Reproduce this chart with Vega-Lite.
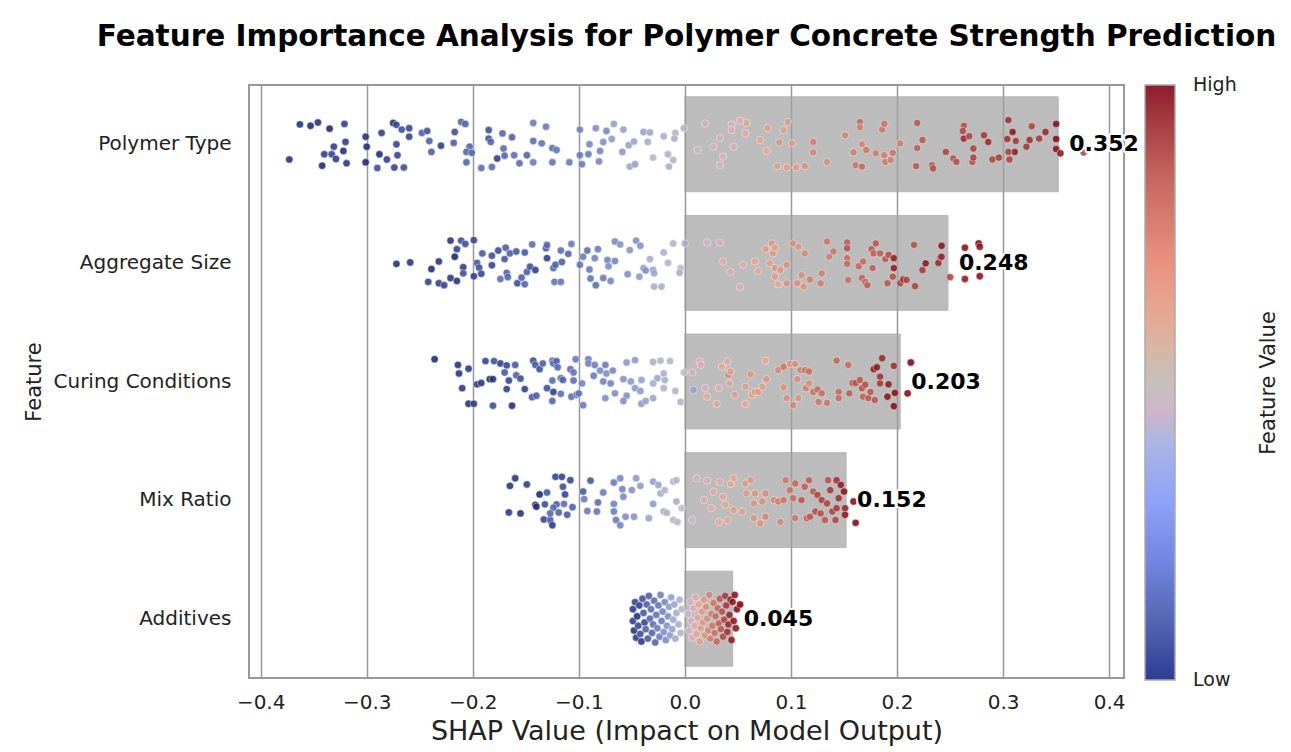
{
"$schema": "https://vega.github.io/schema/vega-lite/v6.json",
"autosize": {"type": "none"},
"padding": {"left": 249, "top": 85, "right": 167, "bottom": 74},
"width": 875,
"height": 593,
"title": {"text": "Feature Importance Analysis for Polymer Concrete Strength Prediction", "fontSize": 29.5, "fontWeight": "bold", "anchor": "middle", "offset": 33, "color": "#000", "font": "DejaVu Sans"},
"config": {
  "font": "DejaVu Sans",
  "view": {"stroke": "#999", "strokeWidth": 2},
  "legend": {"labelFont": "DejaVu Sans", "titleFont": "DejaVu Sans"}
},
"datasets": {
"bars": [
{"f":"Polymer Type","imp":0.352},
{"f":"Aggregate Size","imp":0.248},
{"f":"Curing Conditions","imp":0.203},
{"f":"Mix Ratio","imp":0.152},
{"f":"Additives","imp":0.045}
],
"pts": [
{"f":"Polymer Type","s":-0.363,"v":0.05,"j":-0.42},
{"f":"Polymer Type","s":-0.353,"v":0.03,"j":-0.39},
{"f":"Polymer Type","s":-0.346,"v":0.06,"j":-0.46},
{"f":"Polymer Type","s":-0.335,"v":0.02,"j":-0.33},
{"f":"Polymer Type","s":-0.321,"v":0.1,"j":-0.43},
{"f":"Polymer Type","s":-0.373,"v":0.05,"j":0.32},
{"f":"Polymer Type","s":-0.342,"v":0.03,"j":0.45},
{"f":"Polymer Type","s":-0.34,"v":0.1,"j":0.21},
{"f":"Polymer Type","s":-0.333,"v":0.12,"j":0.21},
{"f":"Polymer Type","s":-0.331,"v":0.1,"j":0.05},
{"f":"Polymer Type","s":-0.329,"v":0.08,"j":0.31},
{"f":"Polymer Type","s":-0.322,"v":0.04,"j":0.14},
{"f":"Polymer Type","s":-0.32,"v":0.1,"j":-0.05},
{"f":"Polymer Type","s":-0.319,"v":0.08,"j":0.4},
{"f":"Polymer Type","s":-0.301,"v":0.05,"j":-0.16},
{"f":"Polymer Type","s":-0.3,"v":0.04,"j":0.05},
{"f":"Polymer Type","s":-0.301,"v":0.02,"j":0.38},
{"f":"Polymer Type","s":-0.29,"v":0.15,"j":0.5},
{"f":"Polymer Type","s":-0.288,"v":0.03,"j":0.21},
{"f":"Polymer Type","s":-0.286,"v":0.1,"j":-0.24},
{"f":"Polymer Type","s":-0.281,"v":0.1,"j":0.32},
{"f":"Polymer Type","s":-0.275,"v":0.03,"j":-0.45},
{"f":"Polymer Type","s":-0.272,"v":0.12,"j":-0.41},
{"f":"Polymer Type","s":-0.272,"v":0.12,"j":0.0},
{"f":"Polymer Type","s":-0.271,"v":0.12,"j":0.23},
{"f":"Polymer Type","s":-0.274,"v":0.12,"j":0.49},
{"f":"Polymer Type","s":-0.267,"v":0.15,"j":-0.31},
{"f":"Polymer Type","s":-0.265,"v":0.15,"j":0.49},
{"f":"Polymer Type","s":-0.26,"v":0.12,"j":-0.34},
{"f":"Polymer Type","s":-0.26,"v":0.12,"j":-0.16},
{"f":"Polymer Type","s":-0.248,"v":0.2,"j":-0.24},
{"f":"Polymer Type","s":-0.243,"v":0.15,"j":-0.28},
{"f":"Polymer Type","s":-0.241,"v":0.2,"j":-0.07},
{"f":"Polymer Type","s":-0.239,"v":0.2,"j":0.16},
{"f":"Polymer Type","s":-0.23,"v":0.1,"j":0.03},
{"f":"Polymer Type","s":-0.218,"v":0.2,"j":-0.03},
{"f":"Polymer Type","s":-0.217,"v":0.15,"j":-0.26},
{"f":"Polymer Type","s":-0.211,"v":0.22,"j":-0.47},
{"f":"Polymer Type","s":-0.207,"v":0.2,"j":-0.43},
{"f":"Polymer Type","s":-0.203,"v":0.22,"j":0.05},
{"f":"Polymer Type","s":-0.206,"v":0.22,"j":0.16},
{"f":"Polymer Type","s":-0.201,"v":0.22,"j":0.18},
{"f":"Polymer Type","s":-0.206,"v":0.22,"j":0.38},
{"f":"Polymer Type","s":-0.192,"v":0.25,"j":0.5},
{"f":"Polymer Type","s":-0.185,"v":0.15,"j":-0.3},
{"f":"Polymer Type","s":-0.185,"v":0.15,"j":-0.12},
{"f":"Polymer Type","s":-0.183,"v":0.22,"j":-0.05},
{"f":"Polymer Type","s":-0.182,"v":0.25,"j":0.48},
{"f":"Polymer Type","s":-0.177,"v":0.1,"j":0.3},
{"f":"Polymer Type","s":-0.172,"v":0.22,"j":-0.23},
{"f":"Polymer Type","s":-0.171,"v":0.25,"j":0.09},
{"f":"Polymer Type","s":-0.17,"v":0.22,"j":0.24},
{"f":"Polymer Type","s":-0.163,"v":0.2,"j":-0.15},
{"f":"Polymer Type","s":-0.161,"v":0.25,"j":0.23},
{"f":"Polymer Type","s":-0.156,"v":0.25,"j":0.4},
{"f":"Polymer Type","s":-0.149,"v":0.22,"j":0.23},
{"f":"Polymer Type","s":-0.143,"v":0.3,"j":-0.45},
{"f":"Polymer Type","s":-0.143,"v":0.25,"j":-0.07},
{"f":"Polymer Type","s":-0.143,"v":0.3,"j":0.38},
{"f":"Polymer Type","s":-0.135,"v":0.27,"j":-0.02},
{"f":"Polymer Type","s":-0.131,"v":0.3,"j":-0.37},
{"f":"Polymer Type","s":-0.125,"v":0.25,"j":0.08},
{"f":"Polymer Type","s":-0.121,"v":0.28,"j":0.12},
{"f":"Polymer Type","s":-0.125,"v":0.28,"j":0.38},
{"f":"Polymer Type","s":-0.109,"v":0.3,"j":0.38},
{"f":"Polymer Type","s":-0.099,"v":0.32,"j":-0.31},
{"f":"Polymer Type","s":-0.099,"v":0.3,"j":0.23},
{"f":"Polymer Type","s":-0.097,"v":0.3,"j":0.42},
{"f":"Polymer Type","s":-0.091,"v":0.3,"j":0.21},
{"f":"Polymer Type","s":-0.09,"v":0.33,"j":0.0},
{"f":"Polymer Type","s":-0.084,"v":0.35,"j":-0.34},
{"f":"Polymer Type","s":-0.081,"v":0.33,"j":0.36},
{"f":"Polymer Type","s":-0.08,"v":0.33,"j":0.14},
{"f":"Polymer Type","s":-0.077,"v":0.35,"j":-0.05},
{"f":"Polymer Type","s":-0.074,"v":0.33,"j":-0.28},
{"f":"Polymer Type","s":-0.069,"v":0.38,"j":-0.11},
{"f":"Polymer Type","s":-0.067,"v":0.4,"j":-0.43},
{"f":"Polymer Type","s":-0.059,"v":0.38,"j":0.16},
{"f":"Polymer Type","s":-0.058,"v":0.4,"j":-0.31},
{"f":"Polymer Type","s":-0.053,"v":0.4,"j":0.02},
{"f":"Polymer Type","s":-0.048,"v":0.42,"j":-0.06},
{"f":"Polymer Type","s":-0.052,"v":0.42,"j":0.47},
{"f":"Polymer Type","s":-0.047,"v":0.4,"j":0.42},
{"f":"Polymer Type","s":-0.039,"v":0.4,"j":-0.26},
{"f":"Polymer Type","s":-0.033,"v":0.42,"j":-0.25},
{"f":"Polymer Type","s":-0.035,"v":0.44,"j":-0.05},
{"f":"Polymer Type","s":-0.03,"v":0.48,"j":0.28},
{"f":"Polymer Type","s":-0.02,"v":0.45,"j":-0.17},
{"f":"Polymer Type","s":-0.016,"v":0.46,"j":0.21},
{"f":"Polymer Type","s":-0.015,"v":0.45,"j":0.47},
{"f":"Polymer Type","s":-0.011,"v":0.47,"j":0.33},
{"f":"Polymer Type","s":-0.009,"v":0.47,"j":-0.24},
{"f":"Polymer Type","s":-0.01,"v":0.46,"j":-0.12},
{"f":"Polymer Type","s":-0.001,"v":0.48,"j":-0.34},
{"f":"Polymer Type","s":0.019,"v":0.55,"j":-0.44},
{"f":"Polymer Type","s":0.033,"v":0.55,"j":0.44},
{"f":"Polymer Type","s":0.044,"v":0.57,"j":-0.41},
{"f":"Polymer Type","s":0.044,"v":0.56,"j":-0.3},
{"f":"Polymer Type","s":0.052,"v":0.58,"j":-0.5},
{"f":"Polymer Type","s":0.058,"v":0.6,"j":-0.45},
{"f":"Polymer Type","s":0.057,"v":0.58,"j":-0.23},
{"f":"Polymer Type","s":0.077,"v":0.6,"j":0.14},
{"f":"Polymer Type","s":0.078,"v":0.62,"j":-0.34},
{"f":"Polymer Type","s":0.087,"v":0.62,"j":0.46},
{"f":"Polymer Type","s":0.089,"v":0.64,"j":-0.04},
{"f":"Polymer Type","s":0.093,"v":0.62,"j":-0.3},
{"f":"Polymer Type","s":0.097,"v":0.63,"j":-0.47},
{"f":"Polymer Type","s":0.096,"v":0.62,"j":0.49},
{"f":"Polymer Type","s":0.101,"v":0.63,"j":-0.02},
{"f":"Polymer Type","s":0.105,"v":0.63,"j":0.49},
{"f":"Polymer Type","s":0.113,"v":0.65,"j":0.46},
{"f":"Polymer Type","s":0.121,"v":0.7,"j":-0.05},
{"f":"Polymer Type","s":0.121,"v":0.68,"j":0.17},
{"f":"Polymer Type","s":0.134,"v":0.66,"j":0.37},
{"f":"Polymer Type","s":0.151,"v":0.68,"j":-0.19},
{"f":"Polymer Type","s":0.161,"v":0.72,"j":0.44},
{"f":"Polymer Type","s":0.159,"v":0.7,"j":0.17},
{"f":"Polymer Type","s":0.165,"v":0.75,"j":-0.47},
{"f":"Polymer Type","s":0.165,"v":0.7,"j":-0.36},
{"f":"Polymer Type","s":0.167,"v":0.68,"j":0.0},
{"f":"Polymer Type","s":0.167,"v":0.75,"j":0.47},
{"f":"Polymer Type","s":0.171,"v":0.72,"j":0.12},
{"f":"Polymer Type","s":0.18,"v":0.7,"j":0.19},
{"f":"Polymer Type","s":0.186,"v":0.72,"j":-0.31},
{"f":"Polymer Type","s":0.188,"v":0.73,"j":-0.43},
{"f":"Polymer Type","s":0.188,"v":0.7,"j":0.23},
{"f":"Polymer Type","s":0.189,"v":0.72,"j":0.37},
{"f":"Polymer Type","s":0.194,"v":0.7,"j":0.33},
{"f":"Polymer Type","s":0.196,"v":0.72,"j":0.18},
{"f":"Polymer Type","s":0.203,"v":0.7,"j":-0.02},
{"f":"Polymer Type","s":0.218,"v":0.8,"j":0.46},
{"f":"Polymer Type","s":0.219,"v":0.8,"j":-0.45},
{"f":"Polymer Type","s":0.219,"v":0.78,"j":0.08},
{"f":"Polymer Type","s":0.224,"v":0.8,"j":-0.09},
{"f":"Polymer Type","s":0.233,"v":0.8,"j":0.44},
{"f":"Polymer Type","s":0.234,"v":0.82,"j":0.51},
{"f":"Polymer Type","s":0.246,"v":0.85,"j":0.16},
{"f":"Polymer Type","s":0.253,"v":0.82,"j":0.3},
{"f":"Polymer Type","s":0.256,"v":0.82,"j":0.37},
{"f":"Polymer Type","s":0.263,"v":0.82,"j":-0.39},
{"f":"Polymer Type","s":0.262,"v":0.85,"j":-0.28},
{"f":"Polymer Type","s":0.263,"v":0.92,"j":-0.12},
{"f":"Polymer Type","s":0.268,"v":0.85,"j":-0.17},
{"f":"Polymer Type","s":0.271,"v":0.82,"j":0.37},
{"f":"Polymer Type","s":0.272,"v":0.85,"j":0.09},
{"f":"Polymer Type","s":0.272,"v":0.85,"j":0.28},
{"f":"Polymer Type","s":0.282,"v":0.88,"j":-0.19},
{"f":"Polymer Type","s":0.286,"v":0.92,"j":-0.05},
{"f":"Polymer Type","s":0.29,"v":0.85,"j":0.32},
{"f":"Polymer Type","s":0.296,"v":0.87,"j":0.28},
{"f":"Polymer Type","s":0.305,"v":0.9,"j":-0.51},
{"f":"Polymer Type","s":0.309,"v":0.96,"j":-0.26},
{"f":"Polymer Type","s":0.304,"v":0.9,"j":-0.11},
{"f":"Polymer Type","s":0.312,"v":0.88,"j":-0.07},
{"f":"Polymer Type","s":0.311,"v":0.95,"j":0.16},
{"f":"Polymer Type","s":0.305,"v":0.86,"j":0.16},
{"f":"Polymer Type","s":0.306,"v":0.85,"j":0.32},
{"f":"Polymer Type","s":0.322,"v":0.88,"j":0.05},
{"f":"Polymer Type","s":0.325,"v":0.9,"j":-0.09},
{"f":"Polymer Type","s":0.327,"v":0.85,"j":-0.38},
{"f":"Polymer Type","s":0.334,"v":0.88,"j":-0.12},
{"f":"Polymer Type","s":0.34,"v":0.92,"j":-0.26},
{"f":"Polymer Type","s":0.35,"v":0.98,"j":-0.43},
{"f":"Polymer Type","s":0.35,"v":0.99,"j":-0.11},
{"f":"Polymer Type","s":0.35,"v":0.97,"j":0.1},
{"f":"Polymer Type","s":0.354,"v":0.96,"j":0.19},
{"f":"Polymer Type","s":0.376,"v":0.85,"j":0.17},
{"f":"Polymer Type","s":0.027,"v":0.55,"j":0.05},
{"f":"Polymer Type","s":0.033,"v":0.54,"j":-0.13},
{"f":"Polymer Type","s":0.046,"v":0.56,"j":0.05},
{"f":"Polymer Type","s":0.036,"v":0.55,"j":0.26},
{"f":"Polymer Type","s":0.012,"v":0.52,"j":0.12},
{"f":"Polymer Type","s":0.071,"v":0.6,"j":-0.09},
{"f":"Aggregate Size","s":-0.272,"v":0.05,"j":0.02},
{"f":"Aggregate Size","s":-0.259,"v":0.06,"j":-0.01},
{"f":"Aggregate Size","s":-0.239,"v":0.04,"j":0.13},
{"f":"Aggregate Size","s":-0.232,"v":0.06,"j":-0.03},
{"f":"Aggregate Size","s":-0.242,"v":0.12,"j":0.4},
{"f":"Aggregate Size","s":-0.232,"v":0.1,"j":0.43},
{"f":"Aggregate Size","s":-0.227,"v":0.12,"j":0.47},
{"f":"Aggregate Size","s":-0.221,"v":0.06,"j":-0.47},
{"f":"Aggregate Size","s":-0.221,"v":0.08,"j":0.32},
{"f":"Aggregate Size","s":-0.217,"v":0.01,"j":-0.13},
{"f":"Aggregate Size","s":-0.215,"v":0.12,"j":-0.29},
{"f":"Aggregate Size","s":-0.215,"v":0.06,"j":0.38},
{"f":"Aggregate Size","s":-0.211,"v":0.15,"j":-0.47},
{"f":"Aggregate Size","s":-0.207,"v":0.15,"j":-0.4},
{"f":"Aggregate Size","s":-0.209,"v":0.1,"j":0.09},
{"f":"Aggregate Size","s":-0.209,"v":0.15,"j":0.22},
{"f":"Aggregate Size","s":-0.199,"v":0.12,"j":-0.48},
{"f":"Aggregate Size","s":-0.199,"v":0.1,"j":0.28},
{"f":"Aggregate Size","s":-0.196,"v":0.18,"j":0.0},
{"f":"Aggregate Size","s":-0.194,"v":0.15,"j":0.1},
{"f":"Aggregate Size","s":-0.192,"v":0.12,"j":0.23},
{"f":"Aggregate Size","s":-0.191,"v":0.18,"j":-0.2},
{"f":"Aggregate Size","s":-0.182,"v":0.15,"j":-0.15},
{"f":"Aggregate Size","s":-0.182,"v":0.12,"j":0.05},
{"f":"Aggregate Size","s":-0.176,"v":0.14,"j":-0.26},
{"f":"Aggregate Size","s":-0.174,"v":0.25,"j":0.34},
{"f":"Aggregate Size","s":-0.17,"v":0.18,"j":-0.08},
{"f":"Aggregate Size","s":-0.169,"v":0.2,"j":-0.32},
{"f":"Aggregate Size","s":-0.168,"v":0.2,"j":0.21},
{"f":"Aggregate Size","s":-0.167,"v":0.22,"j":0.3},
{"f":"Aggregate Size","s":-0.165,"v":0.2,"j":-0.2},
{"f":"Aggregate Size","s":-0.159,"v":0.18,"j":-0.24},
{"f":"Aggregate Size","s":-0.158,"v":0.15,"j":0.43},
{"f":"Aggregate Size","s":-0.154,"v":0.2,"j":0.31},
{"f":"Aggregate Size","s":-0.151,"v":0.18,"j":-0.22},
{"f":"Aggregate Size","s":-0.151,"v":0.22,"j":0.45},
{"f":"Aggregate Size","s":-0.149,"v":0.2,"j":0.19},
{"f":"Aggregate Size","s":-0.146,"v":0.15,"j":0.08},
{"f":"Aggregate Size","s":-0.144,"v":0.25,"j":-0.39},
{"f":"Aggregate Size","s":-0.141,"v":0.1,"j":0.15},
{"f":"Aggregate Size","s":-0.131,"v":0.18,"j":-0.31},
{"f":"Aggregate Size","s":-0.13,"v":0.22,"j":-0.38},
{"f":"Aggregate Size","s":-0.13,"v":0.1,"j":-0.1},
{"f":"Aggregate Size","s":-0.124,"v":0.22,"j":0.11},
{"f":"Aggregate Size","s":-0.122,"v":0.2,"j":0.04},
{"f":"Aggregate Size","s":-0.117,"v":0.25,"j":-0.26},
{"f":"Aggregate Size","s":-0.116,"v":0.2,"j":-0.02},
{"f":"Aggregate Size","s":-0.123,"v":0.28,"j":0.4},
{"f":"Aggregate Size","s":-0.117,"v":0.28,"j":0.4},
{"f":"Aggregate Size","s":-0.11,"v":0.22,"j":-0.19},
{"f":"Aggregate Size","s":-0.107,"v":0.3,"j":-0.4},
{"f":"Aggregate Size","s":-0.099,"v":0.28,"j":0.04},
{"f":"Aggregate Size","s":-0.096,"v":0.3,"j":-0.13},
{"f":"Aggregate Size","s":-0.092,"v":0.25,"j":-0.26},
{"f":"Aggregate Size","s":-0.09,"v":0.3,"j":0.14},
{"f":"Aggregate Size","s":-0.089,"v":0.28,"j":0.33},
{"f":"Aggregate Size","s":-0.085,"v":0.32,"j":-0.1},
{"f":"Aggregate Size","s":-0.084,"v":0.25,"j":0.47},
{"f":"Aggregate Size","s":-0.082,"v":0.3,"j":-0.29},
{"f":"Aggregate Size","s":-0.077,"v":0.3,"j":0.32},
{"f":"Aggregate Size","s":-0.073,"v":0.32,"j":-0.06},
{"f":"Aggregate Size","s":-0.072,"v":0.35,"j":0.07},
{"f":"Aggregate Size","s":-0.07,"v":0.33,"j":0.38},
{"f":"Aggregate Size","s":-0.066,"v":0.34,"j":-0.45},
{"f":"Aggregate Size","s":-0.061,"v":0.36,"j":-0.39},
{"f":"Aggregate Size","s":-0.066,"v":0.32,"j":-0.04},
{"f":"Aggregate Size","s":-0.054,"v":0.35,"j":0.24},
{"f":"Aggregate Size","s":-0.052,"v":0.37,"j":-0.27},
{"f":"Aggregate Size","s":-0.046,"v":0.36,"j":-0.47},
{"f":"Aggregate Size","s":-0.042,"v":0.36,"j":-0.36},
{"f":"Aggregate Size","s":-0.043,"v":0.38,"j":0.29},
{"f":"Aggregate Size","s":-0.039,"v":0.38,"j":0.11},
{"f":"Aggregate Size","s":-0.037,"v":0.36,"j":0.16},
{"f":"Aggregate Size","s":-0.033,"v":0.44,"j":-0.08},
{"f":"Aggregate Size","s":-0.03,"v":0.4,"j":0.15},
{"f":"Aggregate Size","s":-0.029,"v":0.42,"j":0.22},
{"f":"Aggregate Size","s":-0.029,"v":0.45,"j":0.5},
{"f":"Aggregate Size","s":-0.022,"v":0.46,"j":0.5},
{"f":"Aggregate Size","s":-0.02,"v":0.46,"j":-0.22},
{"f":"Aggregate Size","s":-0.016,"v":0.47,"j":0.0},
{"f":"Aggregate Size","s":-0.011,"v":0.47,"j":-0.41},
{"f":"Aggregate Size","s":-0.004,"v":0.48,"j":0.11},
{"f":"Aggregate Size","s":-0.005,"v":0.45,"j":0.21},
{"f":"Aggregate Size","s":0.0,"v":0.45,"j":-0.41},
{"f":"Aggregate Size","s":0.021,"v":0.55,"j":-0.43},
{"f":"Aggregate Size","s":0.033,"v":0.56,"j":-0.43},
{"f":"Aggregate Size","s":0.036,"v":0.58,"j":-0.03},
{"f":"Aggregate Size","s":0.043,"v":0.57,"j":0.19},
{"f":"Aggregate Size","s":0.052,"v":0.58,"j":0.51},
{"f":"Aggregate Size","s":0.055,"v":0.57,"j":0.04},
{"f":"Aggregate Size","s":0.066,"v":0.6,"j":-0.03},
{"f":"Aggregate Size","s":0.069,"v":0.6,"j":0.17},
{"f":"Aggregate Size","s":0.076,"v":0.62,"j":-0.29},
{"f":"Aggregate Size","s":0.08,"v":0.62,"j":0.01},
{"f":"Aggregate Size","s":0.082,"v":0.64,"j":-0.41},
{"f":"Aggregate Size","s":0.083,"v":0.63,"j":-0.2},
{"f":"Aggregate Size","s":0.085,"v":0.62,"j":-0.32},
{"f":"Aggregate Size","s":0.085,"v":0.64,"j":0.11},
{"f":"Aggregate Size","s":0.088,"v":0.6,"j":0.45},
{"f":"Aggregate Size","s":0.09,"v":0.64,"j":0.15},
{"f":"Aggregate Size","s":0.085,"v":0.63,"j":0.29},
{"f":"Aggregate Size","s":0.096,"v":0.65,"j":0.04},
{"f":"Aggregate Size","s":0.096,"v":0.65,"j":0.43},
{"f":"Aggregate Size","s":0.102,"v":0.66,"j":-0.41},
{"f":"Aggregate Size","s":0.107,"v":0.65,"j":-0.34},
{"f":"Aggregate Size","s":0.106,"v":0.66,"j":0.43},
{"f":"Aggregate Size","s":0.113,"v":0.67,"j":-0.2},
{"f":"Aggregate Size","s":0.11,"v":0.66,"j":0.26},
{"f":"Aggregate Size","s":0.112,"v":0.65,"j":0.5},
{"f":"Aggregate Size","s":0.118,"v":0.7,"j":0.35},
{"f":"Aggregate Size","s":0.128,"v":0.7,"j":0.43},
{"f":"Aggregate Size","s":0.129,"v":0.7,"j":0.22},
{"f":"Aggregate Size","s":0.134,"v":0.72,"j":-0.45},
{"f":"Aggregate Size","s":0.136,"v":0.7,"j":-0.13},
{"f":"Aggregate Size","s":0.14,"v":0.72,"j":-0.24},
{"f":"Aggregate Size","s":0.153,"v":0.78,"j":-0.43},
{"f":"Aggregate Size","s":0.153,"v":0.82,"j":-0.31},
{"f":"Aggregate Size","s":0.153,"v":0.75,"j":-0.1},
{"f":"Aggregate Size","s":0.153,"v":0.76,"j":0.02},
{"f":"Aggregate Size","s":0.154,"v":0.74,"j":0.36},
{"f":"Aggregate Size","s":0.164,"v":0.76,"j":0.07},
{"f":"Aggregate Size","s":0.167,"v":0.78,"j":0.32},
{"f":"Aggregate Size","s":0.168,"v":0.75,"j":-0.03},
{"f":"Aggregate Size","s":0.17,"v":0.76,"j":0.4},
{"f":"Aggregate Size","s":0.172,"v":0.78,"j":0.47},
{"f":"Aggregate Size","s":0.177,"v":0.78,"j":0.11},
{"f":"Aggregate Size","s":0.176,"v":0.8,"j":-0.29},
{"f":"Aggregate Size","s":0.18,"v":0.8,"j":-0.41},
{"f":"Aggregate Size","s":0.178,"v":0.78,"j":-0.2},
{"f":"Aggregate Size","s":0.184,"v":0.78,"j":-0.2},
{"f":"Aggregate Size","s":0.189,"v":0.8,"j":-0.08},
{"f":"Aggregate Size","s":0.191,"v":0.8,"j":0.43},
{"f":"Aggregate Size","s":0.192,"v":0.82,"j":-0.17},
{"f":"Aggregate Size","s":0.197,"v":0.95,"j":-0.1},
{"f":"Aggregate Size","s":0.197,"v":0.95,"j":0.11},
{"f":"Aggregate Size","s":0.196,"v":0.82,"j":0.29},
{"f":"Aggregate Size","s":0.203,"v":0.85,"j":0.43},
{"f":"Aggregate Size","s":0.206,"v":0.93,"j":0.35},
{"f":"Aggregate Size","s":0.209,"v":0.85,"j":0.36},
{"f":"Aggregate Size","s":0.217,"v":0.85,"j":0.49},
{"f":"Aggregate Size","s":0.216,"v":0.82,"j":-0.38},
{"f":"Aggregate Size","s":0.224,"v":0.88,"j":0.15},
{"f":"Aggregate Size","s":0.227,"v":0.96,"j":0.01},
{"f":"Aggregate Size","s":0.239,"v":0.92,"j":0.0},
{"f":"Aggregate Size","s":0.241,"v":0.96,"j":-0.12},
{"f":"Aggregate Size","s":0.242,"v":0.97,"j":-0.36},
{"f":"Aggregate Size","s":0.242,"v":0.9,"j":-0.13},
{"f":"Aggregate Size","s":0.25,"v":0.85,"j":0.3},
{"f":"Aggregate Size","s":0.264,"v":0.98,"j":-0.32},
{"f":"Aggregate Size","s":0.264,"v":0.96,"j":0.34},
{"f":"Aggregate Size","s":0.277,"v":0.99,"j":-0.41},
{"f":"Aggregate Size","s":0.278,"v":0.97,"j":-0.34},
{"f":"Aggregate Size","s":0.278,"v":0.98,"j":0.28},
{"f":"Curing Conditions","s":-0.236,"v":0.02,"j":-0.47},
{"f":"Curing Conditions","s":-0.214,"v":0.06,"j":-0.35},
{"f":"Curing Conditions","s":-0.213,"v":0.06,"j":-0.17},
{"f":"Curing Conditions","s":-0.204,"v":0.08,"j":-0.27},
{"f":"Curing Conditions","s":-0.21,"v":0.08,"j":0.14},
{"f":"Curing Conditions","s":-0.204,"v":0.06,"j":0.47},
{"f":"Curing Conditions","s":-0.199,"v":0.08,"j":0.47},
{"f":"Curing Conditions","s":-0.196,"v":0.1,"j":0.06},
{"f":"Curing Conditions","s":-0.192,"v":0.08,"j":0.03},
{"f":"Curing Conditions","s":-0.188,"v":0.12,"j":-0.43},
{"f":"Curing Conditions","s":-0.184,"v":0.05,"j":-0.05},
{"f":"Curing Conditions","s":-0.181,"v":0.05,"j":-0.05},
{"f":"Curing Conditions","s":-0.18,"v":0.15,"j":-0.43},
{"f":"Curing Conditions","s":-0.181,"v":0.15,"j":0.51},
{"f":"Curing Conditions","s":-0.174,"v":0.1,"j":-0.38},
{"f":"Curing Conditions","s":-0.168,"v":0.12,"j":-0.34},
{"f":"Curing Conditions","s":-0.17,"v":0.18,"j":-0.19},
{"f":"Curing Conditions","s":-0.166,"v":0.12,"j":-0.02},
{"f":"Curing Conditions","s":-0.168,"v":0.1,"j":0.16},
{"f":"Curing Conditions","s":-0.163,"v":0.04,"j":0.51},
{"f":"Curing Conditions","s":-0.16,"v":0.18,"j":-0.35},
{"f":"Curing Conditions","s":-0.159,"v":0.2,"j":-0.13},
{"f":"Curing Conditions","s":-0.155,"v":0.15,"j":-0.06},
{"f":"Curing Conditions","s":-0.151,"v":0.1,"j":0.16},
{"f":"Curing Conditions","s":-0.143,"v":0.15,"j":-0.44},
{"f":"Curing Conditions","s":-0.141,"v":0.18,"j":-0.35},
{"f":"Curing Conditions","s":-0.137,"v":0.15,"j":-0.26},
{"f":"Curing Conditions","s":-0.134,"v":0.2,"j":-0.38},
{"f":"Curing Conditions","s":-0.144,"v":0.18,"j":0.33},
{"f":"Curing Conditions","s":-0.14,"v":0.2,"j":0.3},
{"f":"Curing Conditions","s":-0.13,"v":0.15,"j":0.14},
{"f":"Curing Conditions","s":-0.125,"v":0.28,"j":-0.44},
{"f":"Curing Conditions","s":-0.124,"v":0.25,"j":-0.38},
{"f":"Curing Conditions","s":-0.121,"v":0.2,"j":-0.43},
{"f":"Curing Conditions","s":-0.12,"v":0.22,"j":-0.3},
{"f":"Curing Conditions","s":-0.125,"v":0.25,"j":-0.02},
{"f":"Curing Conditions","s":-0.124,"v":0.1,"j":0.22},
{"f":"Curing Conditions","s":-0.125,"v":0.22,"j":0.41},
{"f":"Curing Conditions","s":-0.117,"v":0.25,"j":-0.07},
{"f":"Curing Conditions","s":-0.115,"v":0.22,"j":-0.03},
{"f":"Curing Conditions","s":-0.117,"v":0.25,"j":0.26},
{"f":"Curing Conditions","s":-0.108,"v":0.25,"j":-0.26},
{"f":"Curing Conditions","s":-0.105,"v":0.28,"j":-0.19},
{"f":"Curing Conditions","s":-0.105,"v":0.25,"j":-0.02},
{"f":"Curing Conditions","s":-0.107,"v":0.25,"j":0.32},
{"f":"Curing Conditions","s":-0.103,"v":0.3,"j":-0.47},
{"f":"Curing Conditions","s":-0.102,"v":0.28,"j":0.28},
{"f":"Curing Conditions","s":-0.1,"v":0.28,"j":0.25},
{"f":"Curing Conditions","s":-0.097,"v":0.32,"j":0.04},
{"f":"Curing Conditions","s":-0.096,"v":0.3,"j":0.5},
{"f":"Curing Conditions","s":-0.091,"v":0.3,"j":-0.47},
{"f":"Curing Conditions","s":-0.091,"v":0.32,"j":-0.38},
{"f":"Curing Conditions","s":-0.086,"v":0.3,"j":-0.12},
{"f":"Curing Conditions","s":-0.085,"v":0.3,"j":-0.35},
{"f":"Curing Conditions","s":-0.08,"v":0.34,"j":-0.23},
{"f":"Curing Conditions","s":-0.077,"v":0.32,"j":0.0},
{"f":"Curing Conditions","s":-0.075,"v":0.3,"j":-0.35},
{"f":"Curing Conditions","s":-0.074,"v":0.35,"j":-0.17},
{"f":"Curing Conditions","s":-0.07,"v":0.32,"j":0.04},
{"f":"Curing Conditions","s":-0.068,"v":0.33,"j":-0.23},
{"f":"Curing Conditions","s":-0.066,"v":0.35,"j":0.25},
{"f":"Curing Conditions","s":-0.075,"v":0.35,"j":0.35},
{"f":"Curing Conditions","s":-0.058,"v":0.36,"j":-0.05},
{"f":"Curing Conditions","s":-0.055,"v":0.38,"j":-0.4},
{"f":"Curing Conditions","s":-0.055,"v":0.36,"j":0.3},
{"f":"Curing Conditions","s":-0.058,"v":0.35,"j":0.41},
{"f":"Curing Conditions","s":-0.051,"v":0.38,"j":0.0},
{"f":"Curing Conditions","s":-0.047,"v":0.38,"j":-0.45},
{"f":"Curing Conditions","s":-0.047,"v":0.38,"j":0.14},
{"f":"Curing Conditions","s":-0.042,"v":0.38,"j":0.2},
{"f":"Curing Conditions","s":-0.041,"v":0.4,"j":-0.03},
{"f":"Curing Conditions","s":-0.041,"v":0.38,"j":0.47},
{"f":"Curing Conditions","s":-0.037,"v":0.4,"j":0.41},
{"f":"Curing Conditions","s":-0.03,"v":0.45,"j":-0.41},
{"f":"Curing Conditions","s":-0.026,"v":0.42,"j":-0.07},
{"f":"Curing Conditions","s":-0.03,"v":0.44,"j":0.04},
{"f":"Curing Conditions","s":-0.03,"v":0.42,"j":0.35},
{"f":"Curing Conditions","s":-0.023,"v":0.48,"j":-0.44},
{"f":"Curing Conditions","s":-0.02,"v":0.45,"j":-0.17},
{"f":"Curing Conditions","s":-0.019,"v":0.46,"j":-0.03},
{"f":"Curing Conditions","s":-0.02,"v":0.47,"j":0.14},
{"f":"Curing Conditions","s":-0.014,"v":0.48,"j":-0.43},
{"f":"Curing Conditions","s":-0.009,"v":0.48,"j":0.2},
{"f":"Curing Conditions","s":-0.004,"v":0.47,"j":0.43},
{"f":"Curing Conditions","s":-0.001,"v":0.5,"j":-0.19},
{"f":"Curing Conditions","s":0.007,"v":0.55,"j":-0.19},
{"f":"Curing Conditions","s":0.014,"v":0.58,"j":-0.42},
{"f":"Curing Conditions","s":0.015,"v":0.57,"j":-0.35},
{"f":"Curing Conditions","s":0.008,"v":0.4,"j":0.18},
{"f":"Curing Conditions","s":0.019,"v":0.56,"j":0.14},
{"f":"Curing Conditions","s":0.021,"v":0.58,"j":0.32},
{"f":"Curing Conditions","s":0.03,"v":0.6,"j":0.47},
{"f":"Curing Conditions","s":0.032,"v":0.57,"j":0.14},
{"f":"Curing Conditions","s":0.035,"v":0.6,"j":-0.31},
{"f":"Curing Conditions","s":0.04,"v":0.58,"j":-0.42},
{"f":"Curing Conditions","s":0.041,"v":0.68,"j":-0.14},
{"f":"Curing Conditions","s":0.043,"v":0.62,"j":-0.21},
{"f":"Curing Conditions","s":0.042,"v":0.6,"j":0.04},
{"f":"Curing Conditions","s":0.047,"v":0.62,"j":0.28},
{"f":"Curing Conditions","s":0.057,"v":0.62,"j":0.11},
{"f":"Curing Conditions","s":0.057,"v":0.6,"j":0.47},
{"f":"Curing Conditions","s":0.062,"v":0.64,"j":-0.15},
{"f":"Curing Conditions","s":0.063,"v":0.62,"j":0.28},
{"f":"Curing Conditions","s":0.066,"v":0.64,"j":0.22},
{"f":"Curing Conditions","s":0.069,"v":0.63,"j":0.22},
{"f":"Curing Conditions","s":0.073,"v":0.62,"j":0.11},
{"f":"Curing Conditions","s":0.076,"v":0.6,"j":-0.44},
{"f":"Curing Conditions","s":0.077,"v":0.64,"j":-0.05},
{"f":"Curing Conditions","s":0.088,"v":0.68,"j":-0.24},
{"f":"Curing Conditions","s":0.093,"v":0.72,"j":-0.31},
{"f":"Curing Conditions","s":0.093,"v":0.65,"j":0.12},
{"f":"Curing Conditions","s":0.096,"v":0.66,"j":0.35},
{"f":"Curing Conditions","s":0.099,"v":0.65,"j":-0.37},
{"f":"Curing Conditions","s":0.104,"v":0.66,"j":-0.37},
{"f":"Curing Conditions","s":0.102,"v":0.68,"j":0.5},
{"f":"Curing Conditions","s":0.106,"v":0.66,"j":-0.05},
{"f":"Curing Conditions","s":0.107,"v":0.65,"j":0.35},
{"f":"Curing Conditions","s":0.109,"v":0.7,"j":-0.24},
{"f":"Curing Conditions","s":0.113,"v":0.72,"j":-0.24},
{"f":"Curing Conditions","s":0.117,"v":0.74,"j":-0.21},
{"f":"Curing Conditions","s":0.114,"v":0.7,"j":0.14},
{"f":"Curing Conditions","s":0.117,"v":0.66,"j":0.04},
{"f":"Curing Conditions","s":0.121,"v":0.74,"j":0.22},
{"f":"Curing Conditions","s":0.125,"v":0.75,"j":0.17},
{"f":"Curing Conditions","s":0.126,"v":0.72,"j":0.43},
{"f":"Curing Conditions","s":0.129,"v":0.74,"j":0.25},
{"f":"Curing Conditions","s":0.134,"v":0.72,"j":0.45},
{"f":"Curing Conditions","s":0.143,"v":0.76,"j":-0.44},
{"f":"Curing Conditions","s":0.145,"v":0.76,"j":0.22},
{"f":"Curing Conditions","s":0.145,"v":0.75,"j":0.35},
{"f":"Curing Conditions","s":0.154,"v":0.75,"j":-0.35},
{"f":"Curing Conditions","s":0.155,"v":0.78,"j":0.25},
{"f":"Curing Conditions","s":0.158,"v":0.8,"j":0.03},
{"f":"Curing Conditions","s":0.161,"v":0.82,"j":0.03},
{"f":"Curing Conditions","s":0.165,"v":0.8,"j":-0.03},
{"f":"Curing Conditions","s":0.167,"v":0.82,"j":0.14},
{"f":"Curing Conditions","s":0.168,"v":0.78,"j":0.32},
{"f":"Curing Conditions","s":0.17,"v":0.82,"j":0.07},
{"f":"Curing Conditions","s":0.173,"v":0.8,"j":0.35},
{"f":"Curing Conditions","s":0.175,"v":0.8,"j":0.22},
{"f":"Curing Conditions","s":0.178,"v":0.95,"j":-0.26},
{"f":"Curing Conditions","s":0.179,"v":0.8,"j":0.39},
{"f":"Curing Conditions","s":0.181,"v":0.96,"j":-0.3},
{"f":"Curing Conditions","s":0.184,"v":0.9,"j":-0.1},
{"f":"Curing Conditions","s":0.184,"v":0.88,"j":0.04},
{"f":"Curing Conditions","s":0.186,"v":0.92,"j":-0.49},
{"f":"Curing Conditions","s":0.191,"v":0.97,"j":0.32},
{"f":"Curing Conditions","s":0.192,"v":0.95,"j":0.06},
{"f":"Curing Conditions","s":0.197,"v":0.9,"j":-0.33},
{"f":"Curing Conditions","s":0.198,"v":0.98,"j":0.24},
{"f":"Curing Conditions","s":0.197,"v":0.98,"j":0.52},
{"f":"Curing Conditions","s":0.21,"v":0.99,"j":0.25},
{"f":"Curing Conditions","s":0.213,"v":1.0,"j":-0.4},
{"f":"Mix Ratio","s":-0.16,"v":0.06,"j":-0.46},
{"f":"Mix Ratio","s":-0.165,"v":0.05,"j":-0.3},
{"f":"Mix Ratio","s":-0.149,"v":0.1,"j":-0.33},
{"f":"Mix Ratio","s":-0.166,"v":0.08,"j":0.26},
{"f":"Mix Ratio","s":-0.155,"v":0.06,"j":0.28},
{"f":"Mix Ratio","s":-0.137,"v":0.02,"j":-0.12},
{"f":"Mix Ratio","s":-0.141,"v":0.05,"j":0.1},
{"f":"Mix Ratio","s":-0.14,"v":0.04,"j":0.14},
{"f":"Mix Ratio","s":-0.122,"v":0.12,"j":-0.49},
{"f":"Mix Ratio","s":-0.116,"v":0.1,"j":-0.49},
{"f":"Mix Ratio","s":-0.108,"v":0.12,"j":-0.42},
{"f":"Mix Ratio","s":-0.115,"v":0.15,"j":-0.28},
{"f":"Mix Ratio","s":-0.13,"v":0.18,"j":-0.16},
{"f":"Mix Ratio","s":-0.113,"v":0.12,"j":-0.12},
{"f":"Mix Ratio","s":-0.121,"v":0.2,"j":0.09},
{"f":"Mix Ratio","s":-0.114,"v":0.25,"j":0.08},
{"f":"Mix Ratio","s":-0.132,"v":0.15,"j":0.09},
{"f":"Mix Ratio","s":-0.124,"v":0.22,"j":0.16},
{"f":"Mix Ratio","s":-0.119,"v":0.2,"j":0.26},
{"f":"Mix Ratio","s":-0.133,"v":0.12,"j":0.41},
{"f":"Mix Ratio","s":-0.127,"v":0.18,"j":0.42},
{"f":"Mix Ratio","s":-0.125,"v":0.08,"j":0.53},
{"f":"Mix Ratio","s":-0.111,"v":0.18,"j":0.31},
{"f":"Mix Ratio","s":-0.106,"v":0.2,"j":0.15},
{"f":"Mix Ratio","s":-0.127,"v":0.22,"j":0.28},
{"f":"Mix Ratio","s":-0.096,"v":0.18,"j":-0.18},
{"f":"Mix Ratio","s":-0.095,"v":0.3,"j":-0.02},
{"f":"Mix Ratio","s":-0.089,"v":0.18,"j":-0.41},
{"f":"Mix Ratio","s":-0.092,"v":0.3,"j":0.23},
{"f":"Mix Ratio","s":-0.083,"v":0.28,"j":0.24},
{"f":"Mix Ratio","s":-0.077,"v":0.3,"j":-0.16},
{"f":"Mix Ratio","s":-0.082,"v":0.25,"j":0.05},
{"f":"Mix Ratio","s":-0.067,"v":0.3,"j":-0.37},
{"f":"Mix Ratio","s":-0.067,"v":0.32,"j":0.08},
{"f":"Mix Ratio","s":-0.067,"v":0.3,"j":0.24},
{"f":"Mix Ratio","s":-0.061,"v":0.34,"j":-0.46},
{"f":"Mix Ratio","s":-0.059,"v":0.32,"j":-0.23},
{"f":"Mix Ratio","s":-0.058,"v":0.34,"j":-0.07},
{"f":"Mix Ratio","s":-0.065,"v":0.3,"j":0.42},
{"f":"Mix Ratio","s":-0.061,"v":0.32,"j":0.53},
{"f":"Mix Ratio","s":-0.056,"v":0.35,"j":0.35},
{"f":"Mix Ratio","s":-0.05,"v":0.36,"j":-0.21},
{"f":"Mix Ratio","s":-0.048,"v":0.36,"j":0.35},
{"f":"Mix Ratio","s":-0.046,"v":0.38,"j":-0.46},
{"f":"Mix Ratio","s":-0.042,"v":0.38,"j":-0.3},
{"f":"Mix Ratio","s":-0.034,"v":0.4,"j":0.38},
{"f":"Mix Ratio","s":-0.03,"v":0.4,"j":-0.39},
{"f":"Mix Ratio","s":-0.03,"v":0.38,"j":0.08},
{"f":"Mix Ratio","s":-0.025,"v":0.42,"j":-0.32},
{"f":"Mix Ratio","s":-0.023,"v":0.44,"j":-0.14},
{"f":"Mix Ratio","s":-0.02,"v":0.45,"j":0.24},
{"f":"Mix Ratio","s":-0.019,"v":0.47,"j":-0.21},
{"f":"Mix Ratio","s":-0.011,"v":0.47,"j":-0.39},
{"f":"Mix Ratio","s":-0.008,"v":0.48,"j":-0.42},
{"f":"Mix Ratio","s":-0.008,"v":0.45,"j":0.03},
{"f":"Mix Ratio","s":-0.011,"v":0.48,"j":0.42},
{"f":"Mix Ratio","s":-0.007,"v":0.49,"j":0.46},
{"f":"Mix Ratio","s":-0.003,"v":0.5,"j":0.17},
{"f":"Mix Ratio","s":-0.017,"v":0.47,"j":0.27},
{"f":"Mix Ratio","s":0.011,"v":0.55,"j":-0.46},
{"f":"Mix Ratio","s":0.021,"v":0.57,"j":-0.41},
{"f":"Mix Ratio","s":0.018,"v":0.56,"j":0.0},
{"f":"Mix Ratio","s":0.007,"v":0.52,"j":0.42},
{"f":"Mix Ratio","s":0.025,"v":0.57,"j":0.17},
{"f":"Mix Ratio","s":0.027,"v":0.58,"j":-0.18},
{"f":"Mix Ratio","s":0.033,"v":0.58,"j":-0.38},
{"f":"Mix Ratio","s":0.036,"v":0.6,"j":-0.07},
{"f":"Mix Ratio","s":0.043,"v":0.6,"j":-0.34},
{"f":"Mix Ratio","s":0.046,"v":0.6,"j":-0.46},
{"f":"Mix Ratio","s":0.032,"v":0.58,"j":0.46},
{"f":"Mix Ratio","s":0.04,"v":0.6,"j":0.42},
{"f":"Mix Ratio","s":0.038,"v":0.6,"j":0.1},
{"f":"Mix Ratio","s":0.046,"v":0.62,"j":0.21},
{"f":"Mix Ratio","s":0.054,"v":0.62,"j":0.24},
{"f":"Mix Ratio","s":0.057,"v":0.63,"j":-0.35},
{"f":"Mix Ratio","s":0.062,"v":0.64,"j":-0.42},
{"f":"Mix Ratio","s":0.058,"v":0.63,"j":-0.14},
{"f":"Mix Ratio","s":0.065,"v":0.65,"j":0.07},
{"f":"Mix Ratio","s":0.066,"v":0.64,"j":-0.14},
{"f":"Mix Ratio","s":0.065,"v":0.65,"j":0.38},
{"f":"Mix Ratio","s":0.071,"v":0.65,"j":0.49},
{"f":"Mix Ratio","s":0.076,"v":0.66,"j":-0.14},
{"f":"Mix Ratio","s":0.073,"v":0.66,"j":0.03},
{"f":"Mix Ratio","s":0.076,"v":0.67,"j":0.35},
{"f":"Mix Ratio","s":0.084,"v":0.68,"j":0.0},
{"f":"Mix Ratio","s":0.088,"v":0.7,"j":0.03},
{"f":"Mix Ratio","s":0.09,"v":0.68,"j":0.46},
{"f":"Mix Ratio","s":0.095,"v":0.72,"j":-0.42},
{"f":"Mix Ratio","s":0.099,"v":0.74,"j":-0.21},
{"f":"Mix Ratio","s":0.102,"v":0.75,"j":-0.04},
{"f":"Mix Ratio","s":0.093,"v":0.72,"j":0.0},
{"f":"Mix Ratio","s":0.104,"v":0.76,"j":-0.35},
{"f":"Mix Ratio","s":0.104,"v":0.72,"j":0.38},
{"f":"Mix Ratio","s":0.11,"v":0.8,"j":0.0},
{"f":"Mix Ratio","s":0.113,"v":0.78,"j":-0.28},
{"f":"Mix Ratio","s":0.115,"v":0.78,"j":0.38},
{"f":"Mix Ratio","s":0.118,"v":0.8,"j":0.35},
{"f":"Mix Ratio","s":0.117,"v":0.78,"j":-0.42},
{"f":"Mix Ratio","s":0.121,"v":0.8,"j":-0.18},
{"f":"Mix Ratio","s":0.123,"v":0.82,"j":0.24},
{"f":"Mix Ratio","s":0.125,"v":0.85,"j":-0.11},
{"f":"Mix Ratio","s":0.128,"v":0.82,"j":0.28},
{"f":"Mix Ratio","s":0.129,"v":0.86,"j":0.0},
{"f":"Mix Ratio","s":0.132,"v":0.8,"j":0.42},
{"f":"Mix Ratio","s":0.135,"v":0.82,"j":-0.42},
{"f":"Mix Ratio","s":0.137,"v":0.88,"j":-0.21},
{"f":"Mix Ratio","s":0.134,"v":0.85,"j":0.07},
{"f":"Mix Ratio","s":0.139,"v":0.86,"j":0.24},
{"f":"Mix Ratio","s":0.142,"v":0.85,"j":0.42},
{"f":"Mix Ratio","s":0.143,"v":0.9,"j":-0.42},
{"f":"Mix Ratio","s":0.147,"v":0.95,"j":-0.32},
{"f":"Mix Ratio","s":0.15,"v":0.97,"j":-0.18},
{"f":"Mix Ratio","s":0.145,"v":0.9,"j":-0.04},
{"f":"Mix Ratio","s":0.143,"v":0.88,"j":0.17},
{"f":"Mix Ratio","s":0.151,"v":0.96,"j":0.31},
{"f":"Mix Ratio","s":0.159,"v":0.98,"j":0.03},
{"f":"Mix Ratio","s":0.161,"v":0.99,"j":0.48},
{"f":"Mix Ratio","s":0.151,"v":0.92,"j":0.17},
{"f":"Additives","s":-0.049,"v":0.08,"j":-0.2},
{"f":"Additives","s":-0.049,"v":0.1,"j":0.05},
{"f":"Additives","s":-0.048,"v":0.06,"j":0.25},
{"f":"Additives","s":-0.047,"v":0.12,"j":-0.35},
{"f":"Additives","s":-0.046,"v":0.1,"j":0.4},
{"f":"Additives","s":-0.045,"v":0.05,"j":-0.05},
{"f":"Additives","s":-0.044,"v":0.12,"j":0.15},
{"f":"Additives","s":-0.043,"v":0.1,"j":-0.28},
{"f":"Additives","s":-0.042,"v":0.15,"j":0.32},
{"f":"Additives","s":-0.041,"v":0.08,"j":0.48},
{"f":"Additives","s":-0.04,"v":0.15,"j":-0.42},
{"f":"Additives","s":-0.039,"v":0.18,"j":-0.12},
{"f":"Additives","s":-0.038,"v":0.12,"j":0.08},
{"f":"Additives","s":-0.037,"v":0.2,"j":0.22},
{"f":"Additives","s":-0.036,"v":0.2,"j":-0.3},
{"f":"Additives","s":-0.035,"v":0.18,"j":0.42},
{"f":"Additives","s":-0.034,"v":0.2,"j":-0.48},
{"f":"Additives","s":-0.033,"v":0.22,"j":0.0},
{"f":"Additives","s":-0.032,"v":0.25,"j":-0.2},
{"f":"Additives","s":-0.031,"v":0.22,"j":0.3},
{"f":"Additives","s":-0.03,"v":0.25,"j":0.12},
{"f":"Additives","s":-0.029,"v":0.25,"j":-0.38},
{"f":"Additives","s":-0.028,"v":0.22,"j":0.5},
{"f":"Additives","s":-0.027,"v":0.28,"j":-0.08},
{"f":"Additives","s":-0.026,"v":0.3,"j":0.2},
{"f":"Additives","s":-0.025,"v":0.28,"j":-0.28},
{"f":"Additives","s":-0.024,"v":0.3,"j":0.38},
{"f":"Additives","s":-0.023,"v":0.32,"j":-0.5},
{"f":"Additives","s":-0.022,"v":0.3,"j":0.05},
{"f":"Additives","s":-0.021,"v":0.32,"j":-0.15},
{"f":"Additives","s":-0.02,"v":0.35,"j":0.28},
{"f":"Additives","s":-0.019,"v":0.33,"j":-0.35},
{"f":"Additives","s":-0.018,"v":0.34,"j":0.45},
{"f":"Additives","s":-0.017,"v":0.36,"j":0.15},
{"f":"Additives","s":-0.016,"v":0.35,"j":-0.05},
{"f":"Additives","s":-0.015,"v":0.38,"j":-0.25},
{"f":"Additives","s":-0.014,"v":0.38,"j":0.35},
{"f":"Additives","s":-0.013,"v":0.4,"j":-0.45},
{"f":"Additives","s":-0.012,"v":0.4,"j":0.22},
{"f":"Additives","s":-0.011,"v":0.42,"j":0.02},
{"f":"Additives","s":-0.01,"v":0.42,"j":-0.3},
{"f":"Additives","s":-0.009,"v":0.43,"j":0.42},
{"f":"Additives","s":-0.008,"v":0.44,"j":-0.12},
{"f":"Additives","s":-0.006,"v":0.45,"j":0.12},
{"f":"Additives","s":-0.005,"v":0.46,"j":-0.4},
{"f":"Additives","s":-0.004,"v":0.47,"j":0.3},
{"f":"Additives","s":-0.003,"v":0.47,"j":-0.2},
{"f":"Additives","s":0.003,"v":0.53,"j":-0.1},
{"f":"Additives","s":0.004,"v":0.54,"j":0.25},
{"f":"Additives","s":0.005,"v":0.55,"j":-0.35},
{"f":"Additives","s":0.006,"v":0.55,"j":0.05},
{"f":"Additives","s":0.007,"v":0.56,"j":0.4},
{"f":"Additives","s":0.008,"v":0.57,"j":-0.22},
{"f":"Additives","s":0.009,"v":0.58,"j":0.15},
{"f":"Additives","s":0.01,"v":0.58,"j":-0.45},
{"f":"Additives","s":0.011,"v":0.6,"j":0.32},
{"f":"Additives","s":0.012,"v":0.6,"j":-0.02},
{"f":"Additives","s":0.013,"v":0.6,"j":-0.3},
{"f":"Additives","s":0.014,"v":0.62,"j":0.48},
{"f":"Additives","s":0.015,"v":0.62,"j":0.2},
{"f":"Additives","s":0.016,"v":0.63,"j":-0.15},
{"f":"Additives","s":0.017,"v":0.64,"j":0.08},
{"f":"Additives","s":0.018,"v":0.64,"j":-0.4},
{"f":"Additives","s":0.019,"v":0.65,"j":0.35},
{"f":"Additives","s":0.02,"v":0.66,"j":-0.25},
{"f":"Additives","s":0.021,"v":0.66,"j":0.0},
{"f":"Additives","s":0.022,"v":0.68,"j":0.25},
{"f":"Additives","s":0.023,"v":0.68,"j":-0.5},
{"f":"Additives","s":0.024,"v":0.7,"j":0.42},
{"f":"Additives","s":0.025,"v":0.7,"j":-0.1},
{"f":"Additives","s":0.026,"v":0.72,"j":0.15},
{"f":"Additives","s":0.027,"v":0.72,"j":-0.33},
{"f":"Additives","s":0.028,"v":0.74,"j":0.3},
{"f":"Additives","s":0.029,"v":0.75,"j":-0.05},
{"f":"Additives","s":0.03,"v":0.76,"j":0.48},
{"f":"Additives","s":0.031,"v":0.76,"j":-0.22},
{"f":"Additives","s":0.032,"v":0.78,"j":0.1},
{"f":"Additives","s":0.033,"v":0.8,"j":-0.42},
{"f":"Additives","s":0.034,"v":0.8,"j":0.22},
{"f":"Additives","s":0.035,"v":0.82,"j":-0.15},
{"f":"Additives","s":0.036,"v":0.84,"j":0.38},
{"f":"Additives","s":0.037,"v":0.85,"j":0.02},
{"f":"Additives","s":0.038,"v":0.88,"j":-0.48},
{"f":"Additives","s":0.039,"v":0.88,"j":-0.28},
{"f":"Additives","s":0.04,"v":0.9,"j":0.28},
{"f":"Additives","s":0.041,"v":0.92,"j":0.12},
{"f":"Additives","s":0.042,"v":0.93,"j":-0.08},
{"f":"Additives","s":0.043,"v":0.95,"j":-0.4},
{"f":"Additives","s":0.044,"v":0.96,"j":0.45},
{"f":"Additives","s":0.046,"v":0.97,"j":0.05},
{"f":"Additives","s":0.047,"v":0.98,"j":-0.5},
{"f":"Additives","s":0.049,"v":0.99,"j":-0.2},
{"f":"Additives","s":0.052,"v":1.0,"j":-0.3},
{"f":"Additives","s":0.048,"v":0.97,"j":0.2},
{"f":"Additives","s":0.045,"v":0.96,"j":-0.35}
]
},
"resolve": {"scale": {"color": "independent", "yOffset": "independent"}},
"layer": [
{
  "data": {"name": "bars"},
  "mark": {"type": "bar", "color": "#a1a1a1", "opacity": 0.7, "stroke": "#9a9a9a", "strokeWidth": 1},
  "encoding": {
    "x": {"field": "imp", "type": "quantitative",
      "scale": {"domain": [-0.411, 0.414], "nice": false, "zero": false},
      "axis": {"title": "SHAP Value (Impact on Model Output)", "values": [-0.4,-0.3,-0.2,-0.1,0,0.1,0.2,0.3,0.4], "format": ".1f", "grid": true, "gridColor": "#999", "gridWidth": 1.5, "domain": false, "ticks": false, "labelFontSize": 20, "labelPadding": 14, "labelColor": "#222", "titleFontSize": 27, "titleFontWeight": "normal", "titleColor": "#222", "titlePadding": 6, "labelFlush": false}},
    "y": {"field": "f", "type": "nominal",
      "scale": {"domain": ["Polymer Type","Aggregate Size","Curing Conditions","Mix Ratio","Additives"], "paddingInner": 0.2, "paddingOuter": 0.1},
      "axis": {"title": "Feature", "grid": false, "domain": false, "ticks": false, "labelFontSize": 20, "labelPadding": 18, "labelColor": "#222", "titleFontSize": 21, "titleFontWeight": "normal", "titleColor": "#222", "titlePadding": 8}}
  }
},
{
  "data": {"name": "pts"},
  "mark": {"type": "point", "filled": true, "opacity": 0, "size": 1},
  "encoding": {
    "x": {"field": "s", "type": "quantitative"},
    "y": {"field": "f", "type": "nominal"},
    "color": {"field": "v", "type": "quantitative",
      "scale": {"domain": [0,0.1,0.2,0.3,0.42,0.5,0.6,0.7,0.85,1], "range": ["#2e3d92","#5666b4","#7385e0","#8fa2f8","#b0bade","#c6c0bc","#e4ab98","#ea9280","#c4645f","#8e1c30"]},
      "legend": {"orient": "right", "offset": 21, "direction": "vertical", "type": "gradient", "gradientLength": 595, "gradientThickness": 30, "gradientStrokeColor": "#aaa", "gradientStrokeWidth": 1.5, "values": [0, 1], "labelExpr": "datum.value >= 1 ? 'High' : 'Low'", "labelFontSize": 19, "labelColor": "#222", "labelOffset": 18, "title": "Feature Value", "titleOrient": "right", "titleFontSize": 21, "titleFontWeight": "normal", "titleColor": "#222", "titlePadding": 32, "titleAnchor": "middle", "titleBaseline": "middle",
        "encode": {"title": {"update": {"angle": {"value": 270}}}, "labels": {"update": {"baseline": {"value": "middle"}}}}}}
  }
},
{
  "data": {"name": "pts"},
  "mark": {"type": "point", "filled": true, "size": 55, "opacity": 0.88, "stroke": "white", "strokeWidth": 0.5},
  "encoding": {
    "x": {"field": "s", "type": "quantitative"},
    "y": {"field": "f", "type": "nominal"},
    "yOffset": {"field": "j", "type": "quantitative", "scale": {"domain": [-1, 1]}},
    "color": {"field": "v", "type": "quantitative",
      "scale": {"domain": [0,0.1,0.2,0.3,0.4,0.5,0.6,0.7,0.8,0.9,1], "range": ["#15226a","#2c3c88","#4a5ca4","#6878b8","#92a0cc","#bcbcc4","#e2a896","#cc8070","#b65a52","#9a3034","#7c0410"]},
      "legend": null}
  }
},
{
  "data": {"name": "bars"},
  "mark": {"type": "text", "align": "left", "baseline": "middle", "dx": 11, "fontSize": 22, "fontWeight": "bold", "stroke": "white", "strokeWidth": 4, "strokeJoin": "round", "fill": "white"},
  "encoding": {
    "x": {"field": "imp", "type": "quantitative"},
    "y": {"field": "f", "type": "nominal"},
    "text": {"field": "imp", "type": "quantitative", "format": ".3f"}
  }
},
{
  "data": {"name": "bars"},
  "mark": {"type": "text", "align": "left", "baseline": "middle", "dx": 11, "fontSize": 22, "fontWeight": "bold", "color": "#000"},
  "encoding": {
    "x": {"field": "imp", "type": "quantitative"},
    "y": {"field": "f", "type": "nominal"},
    "text": {"field": "imp", "type": "quantitative", "format": ".3f"}
  }
}
]
}
